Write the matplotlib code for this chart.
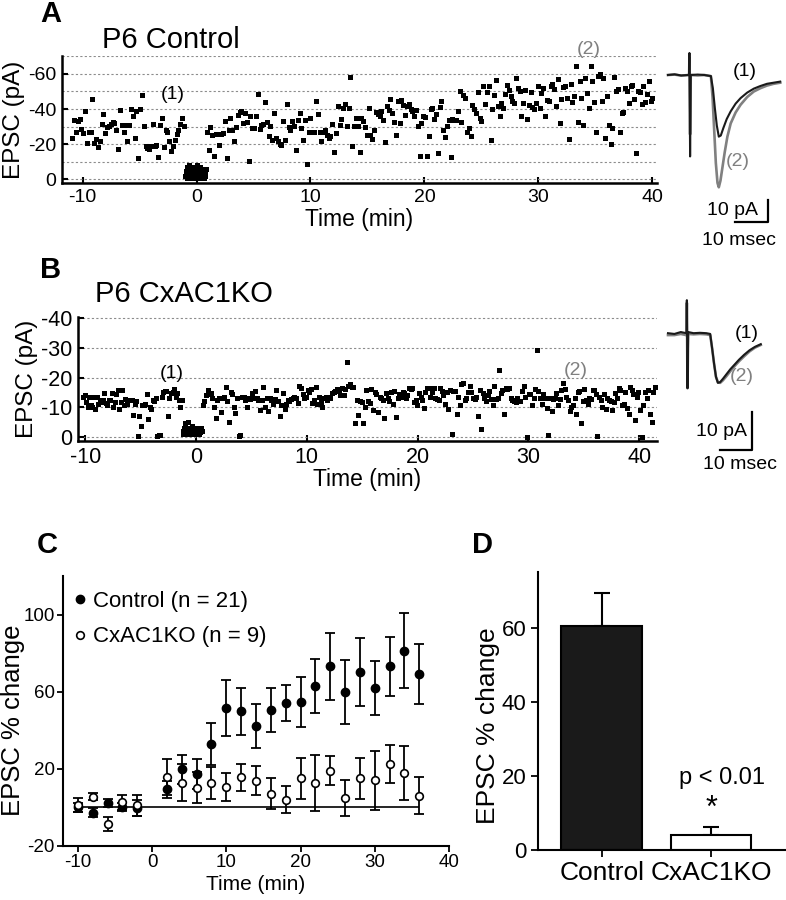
import numpy as np
import matplotlib
matplotlib.use("Agg")
import matplotlib.pyplot as plt

plt.rcParams["font.family"] = ["Liberation Sans", "DejaVu Sans"]
plt.rcParams["axes.unicode_minus"] = False

W, H = 786, 900


def rect(x0, y0, x1, y1):
    # pixel box -> figure fraction
    return [x0 / W, 1 - y1 / H, (x1 - x0) / W, (y1 - y0) / H]


def fpos(x, y):
    return x / W, 1 - y / H


# ---------------- data: panel A (P6 Control), EPSC amplitude in pA ----------------
a_base_span = (-10.9, -1.1)
a_base = [-23.4, -33.5, -27, -33, -34.3, -28.6, -26.3, -38.7, -20.6, -27, -26.7, -45.7, -20.6,
          -22.9, -18.3, -22, -31.6, -37.3, -26.3, -29.7, -30.5, -31.6, -32.4, -32, -27.8, -17.1,
          -39.6, -31, -27, -31, -22, -31, -40, -35.8, -23.4, -38.7, -12, -40, -48.2, -30.5, -19,
          -17.7, -17.1, -18.7, -31.6, -18.7, -19.6, -12.6, -31, -34.9, -18.3, -28.2, -26.7, -22,
          -16.4, -18.7, -22.5, -25.9, -28.2, -31.6, -34.9, -30.5]
a_pair_span = (-1.0, 0.8)
a_pair = [-2, -5, -3, -7, -1, -4, -6, -2, -8, -3, -5, -1, -4, -6, -3, -7, -2, -5, -4, -1,
          -6, -3, -8, -2, -5, -4, -6, -1, -3, -7, -5, -2, -4, -6, -3, -5, -1, -4, -2, -6]
a_post_span = (0.9, 40.0)
a_post = [-27.2, -16.8, -29.7, -25.3, -13.3, -25.7, -25.9, -19.6, -25.9, -26.3, -33, -12.4,
          -27.8, -34.9, -28.2, -22, -29.7, -36.8, -38.1, -38.7, -32, -37.7, -32.4, -10.7, -35.8,
          -29.1, -29.1, -35.8, -48.6, -28.6,
          -31, -31.6, -43.8, -32.4, -24.8, -30.5, -22.5, -37.7, -23.4, -22, -20, -19.6, -33.3,
          -22.5, -42.9, -29.5, -28.2, -33.3, -30.5, -16.8, -33.5, -37.7, -29.1, -22.5, -33.5,
          -8.6, -26.7, -34.9, -27.2, -27.2, -44.8, -37.3, -27.2, -22, -27.2, -27.8, -25.3, -23.4,
          -24.8, -31.6, -15.8, -26.3, -41.5, -31, -34.3, -40.6, -42.9, -30.5, -40.6, -58.1, -19,
          -30.1, -34.9, -30.1, -15.4, -34.9, -33, -29.7, -25.3, -40.6, -25.3, -22.9, -28.2, -38.1,
          -37.3, -36.2, -38.7, -33.9, -21, -41.9, -39.6, -45.7, -37.7, -32.4, -25.3, -44.4, -32,
          -45.3, -42.5, -36.8, -41.9, -43, -40, -38.7, -35.8, -39.2, -30.1, -13, -32, -36.2,
          -35.2, -13, -24.4, -40, -40.6, -34.3, -37.3, -15.2, -41.1, -44.4, -28.2, -24, -30.5,
          -33.9, -12.6, -34.3, -33.5,
          -33.9, -38.7, -50.1, -32.4, -48.2, -46.3, -27.2, -29.1, -24.8, -42.5, -40, -37.7, -49.5,
          -34.9, -33, -53, -43, -49.5, -53.3, -22.5, -40, -48.2, -56.8, -41.9, -36.2, -43.4,
          -40.6, -48.6, -53.9, -50.7, -47.6, -44.4, -43.4, -57.7, -52, -50.1, -35.8, -43.4, -51,
          -34.3, -42.5, -49.5, -41.1, -40, -43.4, -53.3, -40.6, -49.1, -52, -36.2, -45, -44.4,
          -53.3, -54.3, -51.4, -41.9, -57.1, -32, -45.7, -52.6, -53, -46.3, -22.9, -54.3, -43.8,
          -47.6, -64.4, -32.4, -56.2, -46.3, -31, -57.7, -49.1, -40.6, -64.4, -55.8, -43.8,
          -27.2, -59, -60.2, -44.8, -57.7, -23.4, -47.2, -31, -20, -29.1, -58.3, -50.5, -51.4,
          -27.2, -37.7, -38.1, -52, -50.1, -43.4, -53.3, -53.9, -45.7, -14.9, -50.1, -49.5, -43,
          -53.3, -43.8, -48.8, -55.8, -44.4, -46.3]

# ---------------- data: panel B (P6 CxAC1KO) ----------------
b_base_span = (-10.2, -1.3)
b_base = [-13.6, -14, -11.7, -10.1, -13.6, -10.6, -10.1, -13.6, -9.5, -13.6, -11.2, -12.5, -11.7,
          -12.3, -14.7, -11.4, -10.6, -12.5, -12.3, -14.7, -10.1, -11.7, -14.3, -15.9, -9.5,
          -11.7, -15.9, -10.6, -12.8, -11.2, -12.5, -12.3, -12.3, -7.3, -10.9, -12.1, -0.2, -6.9,
          -3.6, -10.6, -10.6, -10.9, -14.3, -6.1, -10.1, -9.5, -12.5, -12.1, -13.2, -0.2, -0.6,
          -0.6, -13.6, -15.1, -15.4, -15.6, -6.9, -13.2, -14.7, -15.1, -16.2, -13.6, -14.7,
          -12.5, -10.1, -12.3]
b_pair_span = (-1.2, 0.5)
b_pair = [-1, -2, -3, -1.5, -4.5, -2, -1, -3, -2.5, -1, -5, -2, -1.5, -3, -2, -1, -2.5,
          -3.5, -1, -2, -1.5, -3, -2, -1, -2.5, -2, -1.5, -3, -1, -2, -2.5, -1.5, -3, -2]
b_post_span = (0.6, 41.4)
b_post = [-10.6, -12.1, -14, -15.9, -14.3, -14.7, -13.2, -10.1, -6.5, -12.5, -13.2, -8.4, -13.2,
          -13.6, -16.8, -12.1, -5, -15.1, -14.5, -10.1, -8, -13.2, -0.2, -0.6, -13.6, -13.6,
          -12.5, -10.1, -13.2, -12.8, -14.7, -13.2,
          -15.4, -13.2, -12.5, -9.2, -12.3, -16.8, -10.1, -13.2, -8.7, -13.2, -12.5, -10.9, -12.8,
          -15.9, -12.1, -6.9, -10.6, -14.7, -9.5, -11.2, -12.3, -12.1, -12.8, -13.2, -13.6,
          -13.2, -11.4, -17.3, -16.5, -14.5, -13.2, -13.6, -15.9, -15.1, -16.2, -11.4, -12.5,
          -16.8, -10.9, -13.6, -11.7, -10.1, -13.2, -13.6, -12.3, -13.6, -13.2, -14.7, -15.1,
          -15.6, -16.2, -15.9, -14, -16.5, -14, -16.2, -25.4, -17, -17.7, -16.8, -16.8, -4.5,
          -12.5, -7.3, -12.1, -11.7, -4.7, -10.1, -15.9, -12.1, -11.4, -16.2, -9.2, -15.1,
          -14.3, -8.4, -13.6, -13.2, -12.5, -6.5, -14.7, -13.2, -12.1, -15.1, -10.9, -15.4,
          -6.7, -13.2, -14.3, -13.4, -15.1, -14.7, -13.2, -14, -16.5, -16.2, -16.5, -11.7,
          -12.5, -10.6, -14.7, -13.6, -12.3, -9.8, -15.1, -16.5, -16.5, -13.6, -15.1, -16.5,
          -13.2, -12.8, -12.5, -16.5, -15.6, -14, -10.9, -15.1, -9.5, -15.9, -0.9, -15.4,
          -15.4, -7.6, -13.6, -10.6, -17.7, -18.1, -12.5, -13.2, -15.1, -17, -15.1, -13.2,
          -12.8, -13.6, -6.9, -15.9, -2.5, -14.7, -13.2, -12.1, -14, -15.4, -12.8, -10.6, -17,
          -12.8, -13.2, -22.6, -14.7, -15.9, -7.8, -16.5, -16.2, -16.5, -13.2, -12.5, -12.1,
          -11.7, -13.2, -12.1, -12.1, -15.6, -17, -13.6, 0.2, -14.5, -14.3, -10.6, -13.2, -16.2,
          -29.3, -15.4, -13.2, -10.9, -14.5, -13.2, -9.8, -0.6, -13.2, -8.7, -12.8, -13.2,
          -14.7, -10.6, -12.8, -15.9, -18.1, -16.2, -13.6, -12.5, -8.7, -10.1, -10.6, -13.2,
          -7.8, -15.1, -15.6, -4.7, -12.1, -16.2, -12.5, -10.9, -13.2, -12.8, -15.9, -15.9,
          -14.3, -0.2, -13.6, -12.5, -10.1, -14.3, -9.5, -13.2, -12.5, -12.1, -8.9, -11.7,
          -14.7, -13.2, -16.5, -15.9, -10.6, -10.9, -15.1, -9.8, -7.6, -16.8, -15.9, -14.5,
          -5.6, -13.6, -15.1, -9.2, 0.2, -10.6, -15.1, -13.2, -15.9, -7.6, -5, -15.1, -16.8]

# ---------------- example traces (ms, pA) ----------------
tr_a_t1 = [0, 2, 4, 6.2, 6.4, 6.5, 6.7, 6.9, 9, 11, 13.0, 13.6, 14.2, 14.8, 15.4, 16.0, 16.8,
           17.8, 19, 20.5, 22, 24, 26, 28, 30, 32, 34]
tr_a_v1 = [0, 0.3, -0.2, 0, 0, 10, -37, 0, 0.2, 0, -0.5, -6, -15, -23, -28, -27.5, -24, -20,
           -16.5, -13, -10.5, -8, -6.2, -5, -4, -3.5, -3]
tr_a_t2 = [0, 2, 4, 6.2, 6.4, 6.5, 6.7, 6.9, 9, 11, 13.0, 13.5, 14.0, 14.5, 15.0, 15.4, 15.9,
           16.5, 17.2, 18, 19, 20.5, 22, 24, 26, 28, 30, 32, 34]
tr_a_v2 = [0, 0.2, -0.3, 0, 0, 8, -27, 0, -0.2, 0, -0.5, -10, -25, -40, -49, -51, -48, -42,
           -35, -28, -22, -17, -13.5, -10, -7.5, -6, -4.8, -4, -3.5]
tr_b_t = [0, 2, 4, 5.7, 5.8, 5.9, 6.1, 6.3, 8, 10, 12, 13.2, 13.8, 14.4, 15.0, 15.6, 16.3,
          17.2, 18.3, 19.5, 20.8, 22.2, 23.8, 25.5, 27.2, 29]
tr_b_v1 = [0.5, 0.3, 0.8, 0.5, 0.5, 9.2, -14, 0.8, 0.5, 0.6, 0.5, 0.3, -3.5, -7.5, -11, -12.6,
           -12.4, -11.5, -10.3, -9, -7.8, -6.5, -5.2, -4, -3.1, -2.4]
tr_b_v2 = [0, 0, 0.3, 0, 0, 8.5, -14, 0.3, 0.2, 0.3, 0.2, 0, -3.5, -7.5, -11, -12.4, -12.6,
           -11.9, -10.8, -9.5, -8.2, -6.9, -5.6, -4.3, -3.3, -2.6]

# ---------------- panel C: time course ----------------
time_c = [-10, -8, -6, -4, -2, 2, 4, 6, 8, 10, 12, 14, 16, 18, 20, 22, 24, 26, 28, 30, 32, 34, 36]
ctrl_mean = [0, -2.7, 2.2, 0.4, -0.4, 9.4, 19.8, 17.4, 33, 51.5, 49.8, 42.3, 50.6, 54.1, 54.6,
             62.8, 73.2, 59.8, 70.4, 61.9, 73.2, 81.3, 69.2]
ctrl_sem = [2.5, 2.5, 2, 2, 4, 4.5, 7.5, 7.6, 11, 14.4, 12, 11.5, 11.4, 9.5, 12.8, 14, 17.4,
            16.4, 17.6, 13.8, 15.4, 19.5, 15.4]
ko_mean = [1.3, 5.6, -8.7, 2.7, 1.1, 15.7, 12.9, 10.3, 12.6, 10.8, 15.7, 13.8, 7, 3.9, 15, 12.6,
           19.1, 4.8, 15, 14, 22.6, 17.7, 6.1]
ko_sem = [3.5, 2, 3.5, 3.8, 5.3, 9.5, 9.8, 8, 8.4, 7.3, 7, 7.5, 8, 7, 10.8, 14.5, 7.4, 9.2,
          10.8, 15.2, 9.7, 13.9, 9.5]

# ---------------- panel D: summary ----------------
groups = ["Control", "CxAC1KO"]
group_mean = [60.5, 4.05]
group_sem = [8.7, 2.25]

fig = plt.figure(figsize=(W / 100, H / 100), dpi=100)


def scatter_panel(ax, segments, xlim, ylim, major, grid_step):
    for span, vals in segments:
        t = np.linspace(span[0], span[1], len(vals))
        ax.plot(t, vals, "s", color="black", ms=3.6, mew=0, clip_on=False)
    ax.set_xlim(*xlim)
    ax.set_ylim(*ylim)
    ax.set_yticks(major)
    ax.set_yticks(np.arange(ylim[1] // grid_step * grid_step + grid_step, 1, grid_step), minor=True)
    ax.set_xticks([-10, 0, 10, 20, 30, 40])
    ax.grid(True, axis="y", which="both", ls=(0, (2, 2)), color="#8c8c8c", lw=0.8)
    ax.set_axisbelow(True)
    for s in ["top", "right"]:
        ax.spines[s].set_visible(False)
    for s in ["left", "bottom"]:
        ax.spines[s].set_linewidth(1.8)
    ax.tick_params(which="major", direction="in", length=4, width=1.5)
    ax.tick_params(which="minor", length=0)


# ---- A ----
axa = fig.add_axes(rect(62, 56, 657, 183))
scatter_panel(axa, [(a_base_span, a_base), (a_pair_span, a_pair), (a_post_span, a_post)],
              (-11.8, 40.4), (2.1, -70.2), [0, -20, -40, -60], 10)
axa.tick_params(labelsize=14, pad=4)
axa.set_ylabel("EPSC (pA)", fontsize=17.5, labelpad=2)
axa.set_xlabel("Time (min)", fontsize=16.5, labelpad=2)
axa.text(-2.05, -48.2, "(1)", fontsize=14, ha="center", va="center")
axa.text(34.4, -73.9, "(2)", fontsize=14, color="#808080", ha="center", va="center", clip_on=False)

# ---- B ----
axb = fig.add_axes(rect(78, 317, 657, 441))
scatter_panel(axb, [(b_base_span, b_base), (b_pair_span, b_pair), (b_post_span, b_post)],
              (-10.65, 41.6), (1.45, -40.5), [0, -10, -20, -30, -40], 10)
axb.tick_params(labelsize=15.5, pad=4)
axb.set_ylabel("EPSC (pA)", fontsize=17.5, labelpad=2)
axb.set_xlabel("Time (min)", fontsize=16.5, labelpad=0)
axb.text(-2.2, -21.3, "(1)", fontsize=14, ha="center", va="center")
axb.text(34.3, -22.4, "(2)", fontsize=14, color="#808080", ha="center", va="center")


def trace_panel(box, xlim, ylim, traces, lab1, lab2, bar_x, bar_y, txt_pa, txt_ms):
    ax = fig.add_axes(rect(*box))
    for t, v, c, lw in traces:
        ax.plot(t, v, color=c, lw=lw, solid_joinstyle="round")
    ax.set_xlim(*xlim)
    ax.set_ylim(*ylim)
    ax.axis("off")
    ax.text(*lab1, "(1)", fontsize=14, ha="center", va="center")
    ax.text(*lab2, "(2)", fontsize=14, color="#808080", ha="center", va="center")
    # 10 pA / 10 msec scale bar
    ax.plot([bar_x - 10, bar_x, bar_x], [bar_y - 10, bar_y - 10, bar_y], color="black", lw=1.6)
    ax.text(*txt_pa, "10 pA", fontsize=14, ha="right", va="center")
    ax.text(*txt_ms, "10 msec", fontsize=14, ha="center", va="center")
    return ax


trace_panel((660, 40, 786, 250), (-2.42, 35.76), (-79.5, 15.9),
            [(tr_a_t2, tr_a_v2, "#808080", 1.9), (tr_a_t1, tr_a_v1, "#1a1a1a", 1.5)],
            (23.3, 1.4), (21.2, -39.5), 30.3, -56.8, (27.3, -61.4), (21.5, -75))
trace_panel((660, 285, 786, 480), (-2.5, 36.9), (-38.2, 13.2),
            [(tr_b_t, tr_b_v2, "#808080", 1.9), (tr_b_t, tr_b_v1, "#1a1a1a", 1.5)],
            (24.7, 0.5), (23.1, -11), 26.25, -20.3, (24.7, -25.5), (22.5, -34.2))

# ---- C ----
axc = fig.add_axes(rect(63, 576, 449, 846))
axc.hlines(0, time_c[0], time_c[-1], color="black", lw=1.2, zorder=1)
for m, e in [(ko_mean, ko_sem), (ctrl_mean, ctrl_sem)]:
    axc.errorbar(time_c, m, yerr=e, fmt="none", ecolor="black", elinewidth=1.3,
                 capsize=3.6, capthick=1.3, zorder=2)
axc.plot(time_c, ctrl_mean, "o", color="black", ms=6, label="Control (n = 21)", zorder=3)
axc.plot(time_c, ko_mean, "o", mfc="white", mec="black", mew=1.2, ms=5.5,
         label="CxAC1KO (n = 9)", zorder=3)
axc.set_xlim(-12, 40)
axc.set_ylim(-20, 120)
axc.set_xticks([-10, 0, 10, 20, 30, 40])
axc.set_yticks([-20, 20, 60, 100])
for s in ["top", "right"]:
    axc.spines[s].set_visible(False)
for s in ["left", "bottom"]:
    axc.spines[s].set_linewidth(1.5)
axc.tick_params(direction="out", length=4, width=1.3, labelsize=13.5, pad=2)
axc.set_ylabel("EPSC % change", fontsize=18.5)
axc.yaxis.set_label_coords(-0.098, 0.467)
axc.set_xlabel("Time (min)", fontsize=15, labelpad=3)
axc.legend(loc="upper left", bbox_to_anchor=(0.027, 0.945), frameon=False, fontsize=16,
           handlelength=0.6, handletextpad=0.3, borderaxespad=0, borderpad=0,
           labelspacing=0.65)

# ---- D ----
axd = fig.add_axes(rect(538, 572, 786, 850))
xd = np.arange(len(groups))
axd.bar(xd, group_mean, width=0.74, color=["#1a1a1a", "white"], edgecolor="black", lw=1.5,
        zorder=2)
axd.errorbar(xd, group_mean, yerr=[[0] * len(groups), group_sem], fmt="none", ecolor="black",
             elinewidth=1.5, capsize=5.5, capthick=1.5, zorder=1)
axd.set_xlim(-0.583, 1.686)
axd.set_ylim(0, 75)
axd.set_xticks(xd)
axd.set_xticklabels(groups)
axd.set_yticks([0, 20, 40, 60])
for s in ["top", "right"]:
    axd.spines[s].set_visible(False)
for s in ["left", "bottom"]:
    axd.spines[s].set_linewidth(1.5)
axd.tick_params(direction="out", length=5, width=1.3)
axd.tick_params(axis="x", labelsize=19, pad=3)
axd.tick_params(axis="y", labelsize=16)
axd.set_ylabel("EPSC % change", fontsize=19)
axd.yaxis.set_label_coords(-0.153, 0.446)
axd.text(1.1, 19.5, "p < 0.01", fontsize=17, ha="center", va="center")
axd.text(1.0, 11.0, "*", fontsize=22, ha="center", va="center")

# panel titles and letters
fig.text(*fpos(102, 40), "P6 Control", fontsize=21, ha="left", va="center")
fig.text(*fpos(95, 294), "P6 CxAC1KO", fontsize=21, ha="left", va="center")
for lab, x, y in [("A", 51, 14), ("B", 51, 270), ("C", 47, 545), ("D", 482, 545)]:
    fig.text(*fpos(x, y), lab, fontsize=21, fontweight="bold", ha="center", va="center")

fig.savefig("out.png", dpi=100)
